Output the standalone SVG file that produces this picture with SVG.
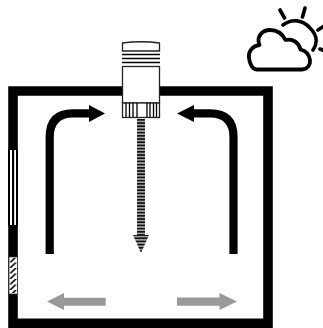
<svg xmlns="http://www.w3.org/2000/svg" width="323" height="328" viewBox="0 0 323 328">
<style>
.k{fill:none;stroke:#000}
.wall{fill:none;stroke:#000;stroke-width:9.600}
.air{fill:none;stroke:#000;stroke-width:8.200}
.grey{fill:#999}
.dev{fill:#fff;stroke:#222;stroke-width:1.3}
.sky{fill:#fff;stroke:#000;stroke-width:3.8;stroke-linecap:round;stroke-linejoin:round}
</style>
<defs>
<pattern id="hatch" width="8" height="5.500" patternUnits="userSpaceOnUse" patternTransform="translate(9 257)"><path d="M0 6.500L8 -1" stroke="#000" stroke-width="1.600"/></pattern>
<pattern id="stripes" width="4" height="3.200" patternUnits="userSpaceOnUse" patternTransform="translate(0 119)"><rect width="4" height="2" fill="#111"/><rect y="2" width="4" height="1.200" fill="#aaa"/></pattern>
</defs>
<g id="room">
<path class="wall" d="M13 91H268V323.200H13Z"/>
<rect x="8" y="149" width="10" height="77" fill="#000"/>
<rect x="10" y="150" width="6" height="75" fill="#fff"/>
<rect x="12" y="150" width="2.200" height="75" fill="#000"/>
<rect x="9" y="257" width="8.400" height="37" fill="#fff" stroke="#333" stroke-width=".8"/>
<rect x="9.500" y="258" width="7.400" height="35" fill="url(#hatch)"/>
</g>
<g id="sensor">
<path class="dev" d="M122.500 43Q141 40.500 159.500 43V51H122.500Z"/>
<path class="k" stroke-width="1.300" d="M122 54.500H160M122 58.500H160M122 62.500H160"/>
<rect class="dev" x="122.500" y="66.500" width="37" height="36.500"/>
<rect class="dev" x="122.500" y="103" width="37" height="14.500"/>
<path class="k" stroke-width="1.300" d="M126 103V117M129.500 103V117M133 103V117M137 103V117M147 103V117M150 103V117M153.500 103V117M156.500 103V117"/>
</g>
<g id="sky">
<path class="k" stroke-width="3.600" stroke-linecap="round" d="M280 10L284.500 18M305 8L302.500 17M318 30L324 26M320 49L325 51M283 25C292 18 303 20 310 28C317 35 318 43 313 50"/>
<path class="sky" d="M257 69.500H302C308 69.500 310.500 64 310 60C309 54 305 50.500 300.500 49.500C299 43 293 38 285.500 40C282 33 276 30 270 30C262 30 256 37 259.500 45C252 46 248 52 249 58C250 64 252 69.500 257 69.500Z"/>
</g>
<g id="connectors">
<path class="air" d="M49.700 254V137Q49.700 113.300 73 113.300H91"/>
<path d="M105 113.500L89 105V122Z" fill="#000"/>
<path class="air" d="M233.500 254V137Q233.500 113.300 210 113.300H192"/>
<path d="M177 113.500L194 105V122Z" fill="#000"/>
<rect x="137" y="119" width="8" height="117" fill="url(#stripes)"/>
<path d="M133 235H149L141 253Z" fill="url(#stripes)"/>
<path class="grey" d="M177 297.500H219.500V293L237 301.500L219.500 310V305.700H177Z"/>
<path class="grey" d="M105.700 297.700H64V293L47 301.500L64 310V305.700H105.700Z"/>
</g>
</svg>
